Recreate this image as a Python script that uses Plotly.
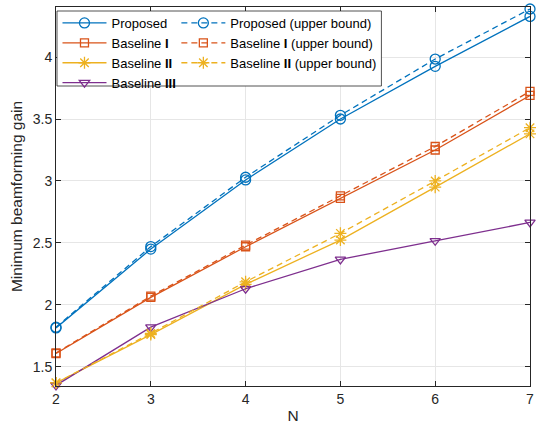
import plotly.graph_objects as go

# Number of antennas N
N = [2, 3, 4, 5, 6, 7]

# Minimum beamforming gain for each scheme
proposed = [1.814, 2.45, 3.008, 3.50, 3.925, 4.328]
proposed_ub = [1.82, 2.47, 3.03, 3.53, 3.984, 4.388]
baseline1 = [1.607, 2.06, 2.469, 2.86, 3.25, 3.69]
baseline1_ub = [1.612, 2.07, 2.482, 2.879, 3.278, 3.723]
baseline2 = [1.37, 1.76, 2.165, 2.523, 2.95, 3.38]
baseline2_ub = [1.37, 1.77, 2.186, 2.577, 3.0, 3.43]
baseline3 = [1.35, 1.82, 2.13, 2.367, 2.517, 2.665]

y_ticks = [1.5, 2, 2.5, 3, 3.5, 4]
y_tick_text = ["1.5", "2", "2.5", "3", "3.5", "4"]

BLUE = "#0072BD"
ORANGE = "#D95319"
YELLOW = "#EDB120"
PURPLE = "#7E2F8E"
FONT = "Liberation Sans, Arial, Helvetica, sans-serif"

fig = go.Figure()


def add(y, name, color, symbol, size, dash, legend):
    fig.add_trace(go.Scatter(
        x=N, y=y, name=name, mode="lines+markers",
        line=dict(color=color, width=1.3, dash=dash),
        marker=dict(symbol=symbol, size=size, color=color,
                    line=dict(color=color, width=1.3)),
        legend=legend, cliponaxis=False,
    ))


add(proposed, "Proposed", BLUE, "circle-open", 10, "solid", "legend")
add(baseline1, "Baseline <b>I</b>", ORANGE, "square-open", 8, "solid", "legend")
add(baseline2, "Baseline <b>II</b>", YELLOW, "asterisk-open", 10, "solid", "legend")
add(baseline3, "Baseline <b>III</b>", PURPLE, "triangle-down-open", 9, "solid", "legend")
add(proposed_ub, "Proposed (upper bound)", BLUE, "circle-open", 10, "6px,4px", "legend2")
add(baseline1_ub, "Baseline <b>I</b> (upper bound)", ORANGE, "square-open", 8, "6px,4px", "legend2")
add(baseline2_ub, "Baseline <b>II</b> (upper bound)", YELLOW, "asterisk-open", 10, "6px,4px", "legend2")

W, H = 539, 437
ml, mr, mt, mb = 55.5, 5, 7, 51
pw, ph = W - ml - mr, H - mt - mb


def px_x(p):
    return (p - ml) / pw


def px_y(p):
    return (H - mb - p) / ph


legend_font = dict(family=FONT, size=13, color="#000000")
common_legend = dict(
    bgcolor="rgba(0,0,0,0)", borderwidth=0, font=legend_font,
    xanchor="left", yanchor="top", orientation="v", itemwidth=44,
    itemclick=False, itemdoubleclick=False, tracegroupgap=0,
)

fig.update_layout(
    width=W, height=H,
    margin=dict(l=ml, r=mr, t=mt, b=mb, pad=0),
    paper_bgcolor="white", plot_bgcolor="white",
    font=dict(family=FONT, size=14, color="#262626"),
    legend=dict(x=px_x(57), y=px_y(8), **common_legend),
    legend2=dict(x=px_x(177), y=px_y(8), **common_legend),
    shapes=[dict(
        type="rect", xref="paper", yref="paper",
        x0=px_x(56.5), x1=px_x(384), y0=px_y(11), y1=px_y(86),
        fillcolor="white", line=dict(color="#262626", width=0.8),
        layer="above",
    )],
    xaxis=dict(
        range=[2, 7], tickvals=N, ticktext=[str(v) for v in N],
        showgrid=True, gridcolor="#e6e6e6", gridwidth=1,
        showline=True, linecolor="#262626", linewidth=1, mirror="ticks",
        ticks="inside", ticklen=5, tickcolor="#262626", tickwidth=1,
        zeroline=False,
        tickfont=dict(family=FONT, size=14, color="#262626"),
        title=dict(text="N", font=dict(family=FONT, size=15.5, color="#262626"),
                   standoff=4),
    ),
    yaxis=dict(
        range=[1.345, 4.404], tickvals=y_ticks, ticktext=y_tick_text,
        showgrid=True, gridcolor="#e6e6e6", gridwidth=1,
        showline=True, linecolor="#262626", linewidth=1, mirror="ticks",
        ticks="inside", ticklen=5, tickcolor="#262626", tickwidth=1,
        zeroline=False,
        tickfont=dict(family=FONT, size=14, color="#262626"),
        title=dict(text="Minimum beamforming gain",
                   font=dict(family=FONT, size=15.5, color="#262626"),
                   standoff=6),
    ),
)

fig.write_html("out.html")
